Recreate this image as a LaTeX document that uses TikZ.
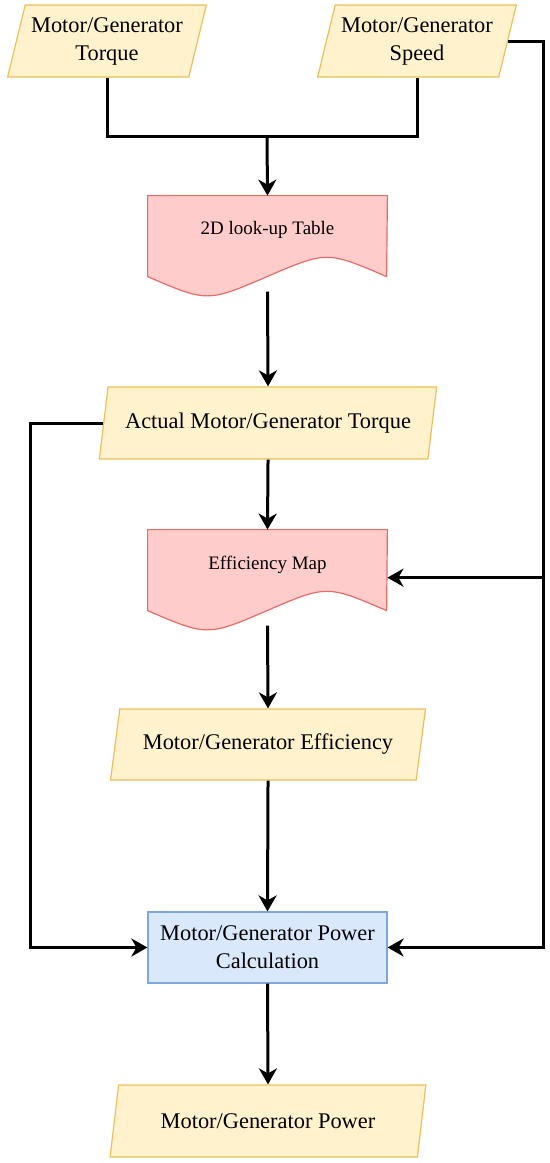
\documentclass[tikz,border=0pt]{standalone}
\usepackage{fontspec}
\setmainfont{Liberation Serif}
\usepackage{tikz}
\usetikzlibrary{arrows.meta,shapes.geometric,calc}
\definecolor{iofill}{HTML}{FFF2CC}
\definecolor{iodraw}{HTML}{EDBF5A}
\definecolor{docfill}{HTML}{FFCCCC}
\definecolor{docdraw}{HTML}{EA6B66}
\definecolor{procfill}{HTML}{DAE8FC}
\definecolor{procdraw}{HTML}{7EA6E0}

\begin{document}
\begin{tikzpicture}[x=0.5pt,y=-0.5pt,
  io/.style={trapezium, trapezium left angle=72, trapezium right angle=108, trapezium stretches=true,
    draw=iodraw, fill=iofill, line width=0.6pt, minimum height=36pt, inner sep=1pt, align=center,
    font=\fontsize{11.2}{14}\selectfont},
  docbox/.style={minimum width=119.5pt, minimum height=47.65pt, inner sep=0pt},
  doctext/.style={font=\fontsize{9.5}{12}\selectfont},
  docline/.style={draw=docdraw, fill=docfill, line width=0.6pt},
  proc/.style={draw=procdraw, fill=procfill, line width=0.6pt, minimum width=119.5pt, minimum height=35.5pt,
    align=center, font=\fontsize{11.2}{14}\selectfont},
  wire/.style={line width=1.5pt},
  arr/.style={-{Stealth[length=8pt,width=9pt,inset=2.5pt]}, line width=1.5pt},
]
\useasboundingbox (0,0) rectangle (550,1163);

% inputs
\node[io, minimum width=100pt] (tq) at (107,41) {Motor/Generator\\Torque};
\node[io, minimum width=100pt] (spd) at (417,41) {Motor/Generator\\Speed};

% look-up table and efficiency map (document shapes)
\node[docbox] (lut) at (267.5,243.65) {};
\node[docbox] (eff) at (267.5,577.65) {};
\foreach \d in {lut,eff}{
  \draw[docline] (\d.north west) -- (\d.north east) -- ($(\d.north west)+(239,81)$)
    .. controls ($(\d.north west)+(179.25,55.3)$) .. ($(\d.north west)+(119.5,81)$)
    .. controls ($(\d.north west)+(59.75,106.7)$) .. ($(\d.north west)+(0,81)$) -- cycle;
}
\node[doctext] (luttxt) at ($(lut.north)+(0,34)$) {2D look-up Table};
\node[doctext] (efftxt) at ($(eff.north)+(0,35)$) {Efficiency Map};

\node[io, minimum width=169pt] (at) at (268,423) {Actual Motor/Generator Torque};
\node[io, minimum width=157.5pt, minimum height=35.5pt] (effp) at (268,744.5) {Motor/Generator Efficiency};
\node[proc] (calc) at (267.5,947.5) {Motor/Generator Power\\Calculation};
\node[io, minimum width=158pt] (pwr) at (268,1121) {Motor/Generator Power};

% bus points
\coordinate (join) at (267,136);
\coordinate (lbus) at (30,423);
\coordinate (rbus) at (543,41);

\draw[wire] (tq.south) |- (join) -| (spd.south);
\draw[arr] (join) -- (lut.north);
\draw[arr] (lut.south) -- (at.north);
\draw[arr] (at.south) -- (eff.north);
\draw[arr] (eff.south) -- (effp.north);
\draw[arr] (effp.south) -- (calc.north);
\draw[arr] (calc.south) -- (pwr.north);
\draw[arr] (at.left side) -- (lbus) |- (calc.west);
\draw[arr] (spd.right side) -- (rbus) |- (calc.east);
\draw[arr] (rbus) |- (eff.east);
\end{tikzpicture}
\end{document}
